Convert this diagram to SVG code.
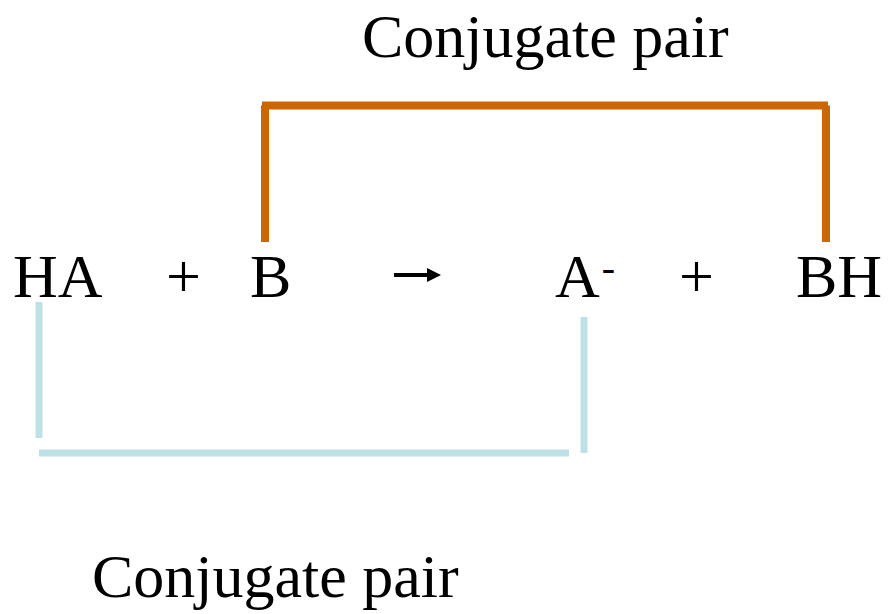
<svg xmlns="http://www.w3.org/2000/svg" width="890" height="614" viewBox="0 0 890 614">
<style>
.t{font-family:"Liberation Serif","Times New Roman",serif;font-size:62px;fill:#000}
.o{fill:none;stroke:#CC6600;stroke-width:8}
.b{fill:none;stroke:#BDE1E5;stroke-width:7}
</style>
<rect width="890" height="614" fill="#fff"/>
<g id="connectors">
<path class="o" d="M265,242 V105.5 M262,105.5 H828 M826,105.5 V242"/>
<line class="b" x1="39" y1="302" x2="39" y2="438"/>
<line class="b" x1="39" y1="453" x2="569" y2="453"/>
<line class="b" x1="584" y1="317" x2="584" y2="453"/>
<g id="reaction-arrow">
<line x1="394" y1="275" x2="429" y2="275" stroke="#000" stroke-width="4"/>
<polygon points="427,268 441,275 427,282" fill="#000"/>
</g>
</g>
<g id="label-top"><text class="t" x="362" y="57">Conjugate pair</text></g>
<g id="HA"><text class="t" x="13" y="297">HA</text></g>
<g id="plus1"><text class="t" x="166" y="297">+</text></g>
<g id="B"><text class="t" x="250" y="297">B</text></g>
<g id="A-"><text class="t" x="555" y="297">A<tspan font-size="40" dx="2" dy="-16">-</tspan></text></g>
<g id="plus2"><text class="t" x="679" y="297">+</text></g>
<g id="BH"><text class="t" x="796" y="297">BH</text></g>
<g id="label-bottom"><text class="t" x="92" y="597">Conjugate pair</text></g>
</svg>
